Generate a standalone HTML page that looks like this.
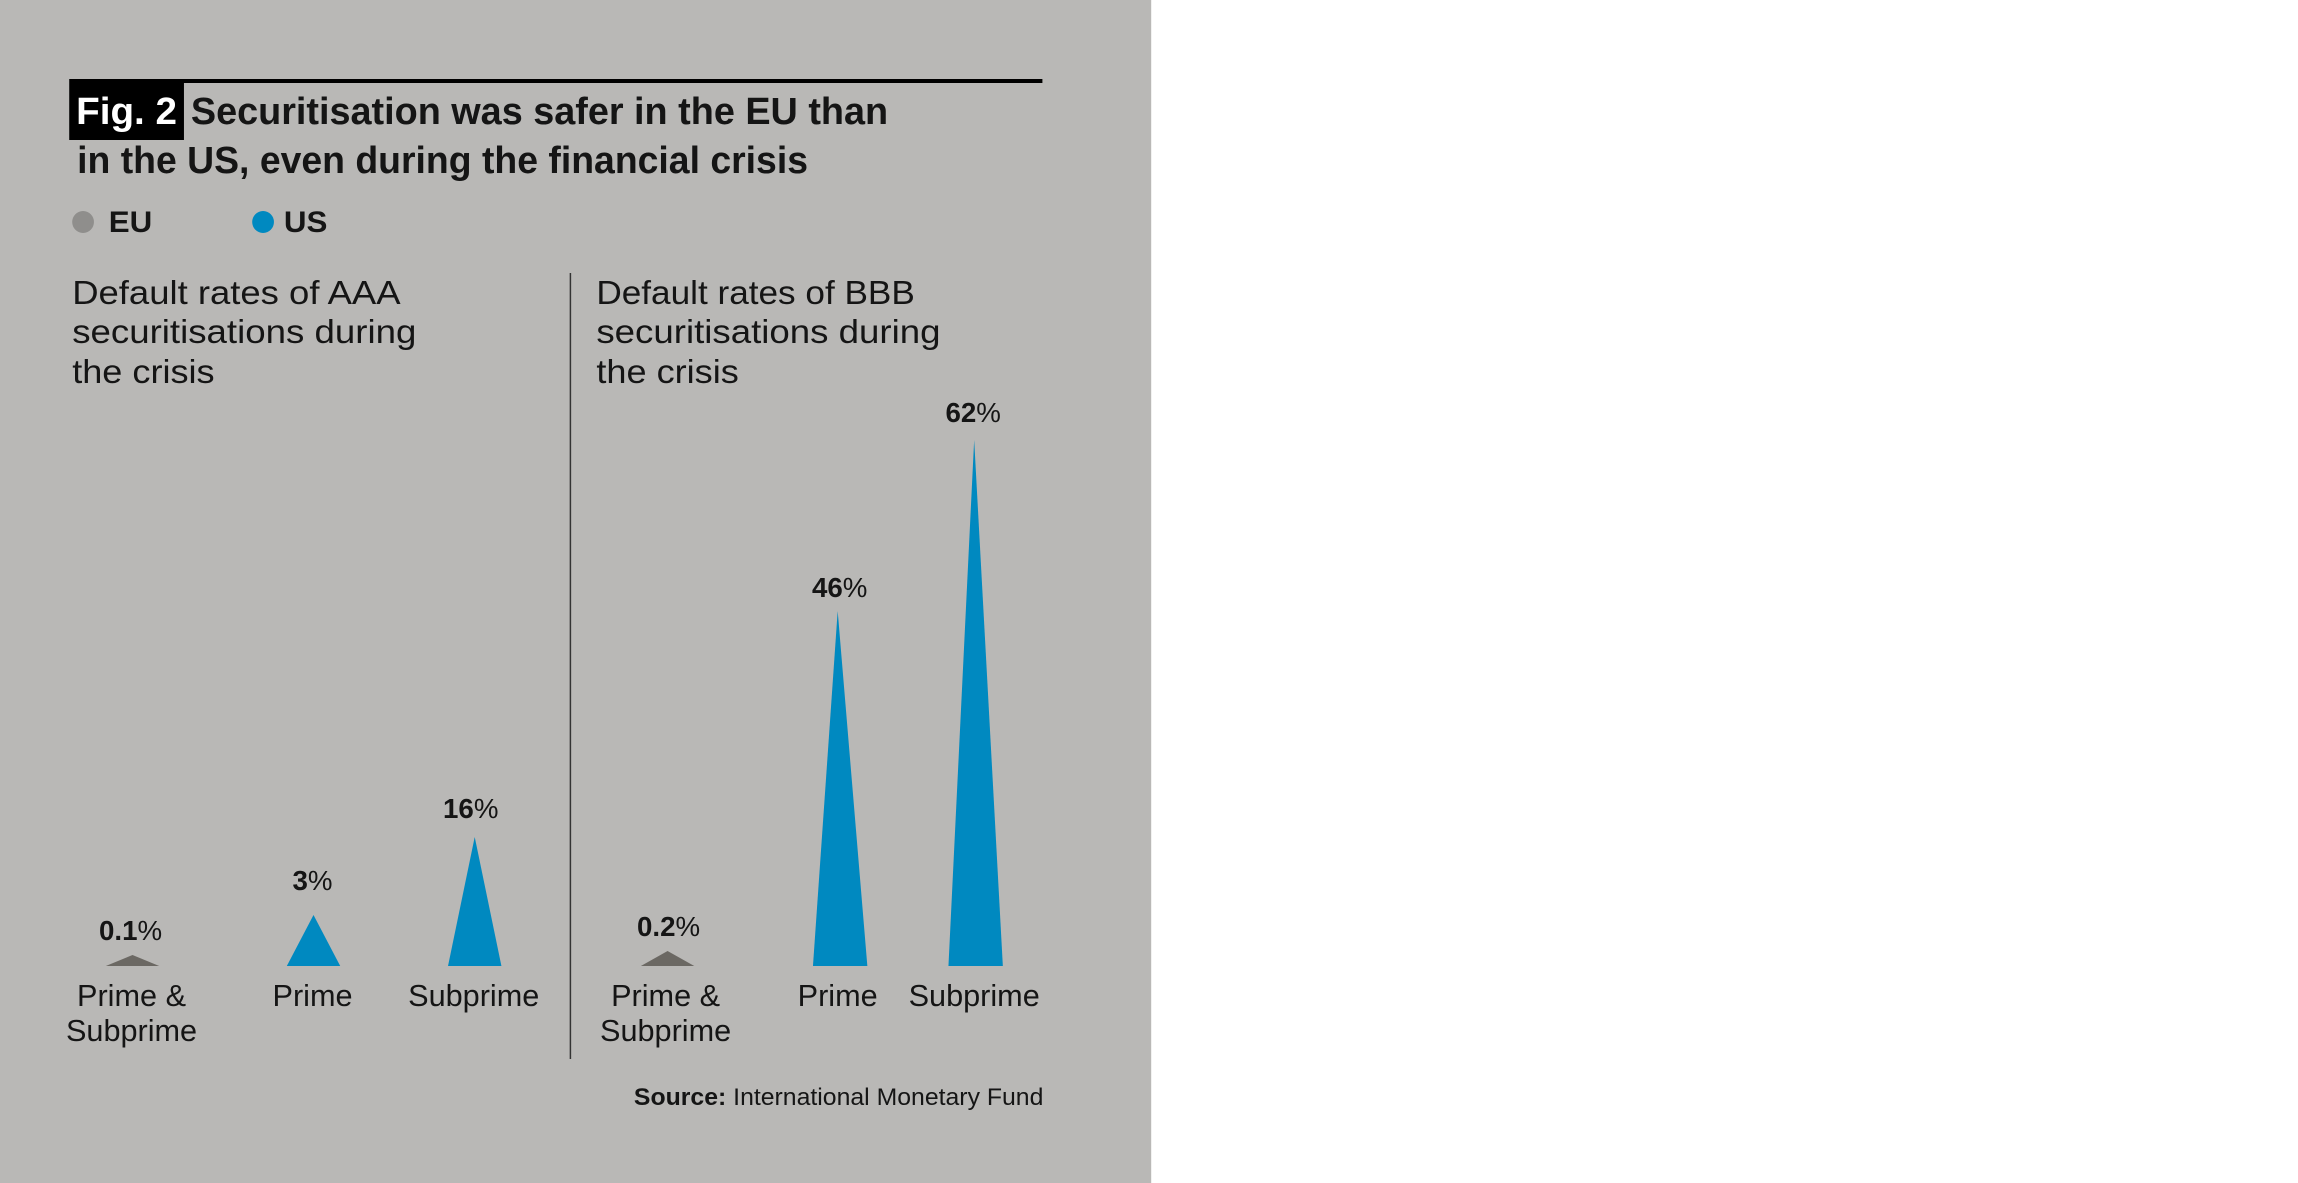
<!DOCTYPE html>
<html><head><meta charset="utf-8"><style>
html,body{margin:0;padding:0;background:#fff;}
svg{display:block;}
text{font-family:"Liberation Sans",sans-serif;fill:#151515;}
</style></head><body>
<svg width="2298" height="1183" viewBox="0 0 2298 1183" xmlns="http://www.w3.org/2000/svg">
<g transform="scale(0.989,1)">
<rect x="0" y="0" width="1164" height="1183" fill="#b9b8b6"/>
<rect x="70" y="79" width="984" height="4" fill="#000"/>
<rect x="70" y="83" width="116" height="57" fill="#000"/>
<text x="77" y="124" font-size="38" font-weight="bold" style="fill:#fff" textLength="102" lengthAdjust="spacingAndGlyphs">Fig. 2</text>
<text x="193" y="124" font-size="38" font-weight="bold" textLength="705" lengthAdjust="spacingAndGlyphs">Securitisation was safer in the EU than</text>
<text x="78" y="173" font-size="38" font-weight="bold" textLength="739" lengthAdjust="spacingAndGlyphs">in the US, even during the financial crisis</text>
<circle cx="84" cy="222" r="11" fill="#8f8e8c"/>
<text x="110" y="232" font-size="30" font-weight="bold" textLength="44" lengthAdjust="spacingAndGlyphs">EU</text>
<circle cx="266" cy="222" r="11" fill="#0089c0"/>
<text x="287" y="232" font-size="30" font-weight="bold" textLength="44" lengthAdjust="spacingAndGlyphs">US</text>
<g font-size="33">
<text x="73" y="304" textLength="332" lengthAdjust="spacingAndGlyphs">Default rates of AAA</text>
<text x="73" y="343" textLength="348" lengthAdjust="spacingAndGlyphs">securitisations during</text>
<text x="73" y="383" textLength="144" lengthAdjust="spacingAndGlyphs">the crisis</text>
<text x="603" y="304" textLength="322" lengthAdjust="spacingAndGlyphs">Default rates of BBB</text>
<text x="603" y="343" textLength="348" lengthAdjust="spacingAndGlyphs">securitisations during</text>
<text x="603" y="383" textLength="144" lengthAdjust="spacingAndGlyphs">the crisis</text>
</g>
<rect x="576" y="273" width="1.5" height="786" fill="#333"/>
<polygon points="107,966 134,955 161,966" fill="#6b6863"/>
<polygon points="290,966 317,915 344,966" fill="#0089c0"/>
<polygon points="453,966 480,837 507,966" fill="#0089c0"/>
<polygon points="648,966 675,951 702,966" fill="#6b6863"/>
<polygon points="822,966 847,611 877,966" fill="#0089c0"/>
<polygon points="959,966 985,440 1014,966" fill="#0089c0"/>
<g font-size="28" text-anchor="middle">
<text x="132" y="940"><tspan font-weight="bold">0.1</tspan>%</text>
<text x="316" y="890"><tspan font-weight="bold">3</tspan>%</text>
<text x="476" y="818"><tspan font-weight="bold">16</tspan>%</text>
<text x="676" y="936"><tspan font-weight="bold">0.2</tspan>%</text>
<text x="849" y="597"><tspan font-weight="bold">46</tspan>%</text>
<text x="984" y="422"><tspan font-weight="bold">62</tspan>%</text>
</g>
<g font-size="31" text-anchor="middle">
<text x="133" y="1006">Prime &amp;</text>
<text x="133" y="1041">Subprime</text>
<text x="316" y="1006">Prime</text>
<text x="479" y="1006">Subprime</text>
<text x="673" y="1006">Prime &amp;</text>
<text x="673" y="1041">Subprime</text>
<text x="847" y="1006">Prime</text>
<text x="985" y="1006">Subprime</text>
</g>
<text x="641" y="1105" font-size="24" textLength="414" lengthAdjust="spacingAndGlyphs"><tspan font-weight="bold">Source:</tspan> International Monetary Fund</text>
</g>
</svg>
</body></html>
